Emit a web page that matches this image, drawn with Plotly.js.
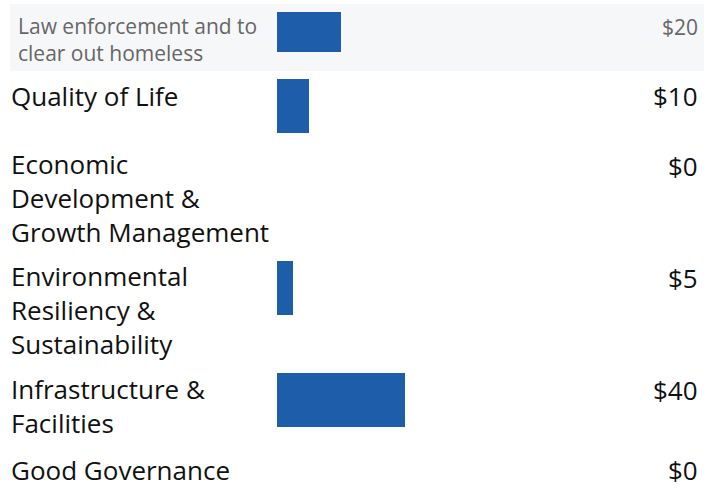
<!DOCTYPE html>
<html>
<head>
<meta charset="utf-8">
<script src="https://cdn.plot.ly/plotly-3.0.1.min.js"></script>
<style>
  html, body { margin: 0; padding: 0; background: #fff; }
  #chart { width: 715px; height: 489px; }
</style>
</head>
<body>
<div id="chart"></div>
<script>
// categories, one entry per text line
const categoryLines = [
  ['Law enforcement and to', 'clear out homeless'],
  ['Quality of Life'],
  ['Economic', 'Development &', 'Growth Management'],
  ['Environmental', 'Resiliency &', 'Sustainability'],
  ['Infrastructure &', 'Facilities'],
  ['Good Governance']
];
const amounts = [20, 10, 0, 5, 40, 0];
const amountLabels = amounts.map(v => '$' + v);
const highlightRow = 0;

const W = 715, H = 489;
const barLeft = 277;
const pxPerDollar = 3.2;
const barColor = '#1e5daa';
const fontFamily = '"Open Sans", sans-serif';
const mainSize = 26, smallSize = 21;

// row geometry (in pixel units of the y axis), reference line pitch is 32px / 26px
const rows = [];
let rowY = 4;
categoryLines.forEach((lines, i) => {
  if (i === highlightRow) {
    rows.push({ top: rowY, height: 67, barTop: rowY + 8, barH: 40, first: rowY + 22.5, pitch: 26 });
    rowY += 67 + 8;
  } else {
    const h = Math.max(54, lines.length * 32) + 16;
    rows.push({ top: rowY, height: h, barTop: rowY, barH: 54, first: rowY + 16.5, pitch: 32 });
    rowY += h;
  }
});

const barTrace = {
  type: 'bar',
  orientation: 'h',
  x: amounts,
  y: rows.map(r => r.barTop + r.barH / 2),
  width: rows.map(r => r.barH),
  base: 0,
  marker: { color: barColor },
  hoverinfo: 'skip'
};

const annotations = [];
categoryLines.forEach((lines, i) => {
  const r = rows[i];
  const hl = i === highlightRow;
  const font = hl ? { family: fontFamily, size: smallSize, color: '#666666' }
                  : { family: fontFamily, size: mainSize, color: '#111111' };
  annotations.push({
    xref: 'paper', yref: 'y',
    x: (hl ? 18 : 11) / W, y: r.first + (lines.length - 1) * r.pitch / 2,
    xanchor: 'left', yanchor: 'middle', align: 'left',
    borderpad: 0, borderwidth: 0,
    text: lines.join('<br>'), showarrow: false, font: font
  });
  annotations.push({
    xref: 'paper', yref: 'y',
    x: 698 / W, y: r.first,
    xanchor: 'right', yanchor: 'middle',
    borderpad: 0, borderwidth: 0,
    text: amountLabels[i], showarrow: false, font: font
  });
});

const shapes = [{
  type: 'rect', xref: 'paper', yref: 'y', layer: 'below',
  x0: 10 / W, x1: 704 / W,
  y0: rows[highlightRow].top, y1: rows[highlightRow].top + rows[highlightRow].height,
  fillcolor: '#f6f7f9', line: { width: 0 }
}];

const layout = {
  width: W,
  height: H,
  margin: { l: 0, r: 0, t: 0, b: 0 },
  paper_bgcolor: '#ffffff',
  plot_bgcolor: 'rgba(0,0,0,0)',
  showlegend: false,
  xaxis: {
    domain: [barLeft / W, 1],
    range: [0, (W - barLeft) / pxPerDollar],
    visible: false, fixedrange: true
  },
  yaxis: {
    domain: [0, 1],
    range: [H, 0],
    visible: false, fixedrange: true
  },
  annotations: annotations,
  shapes: shapes
};

Plotly.newPlot('chart', [barTrace], layout, { displayModeBar: false, staticPlot: true });
</script>
</body>
</html>
